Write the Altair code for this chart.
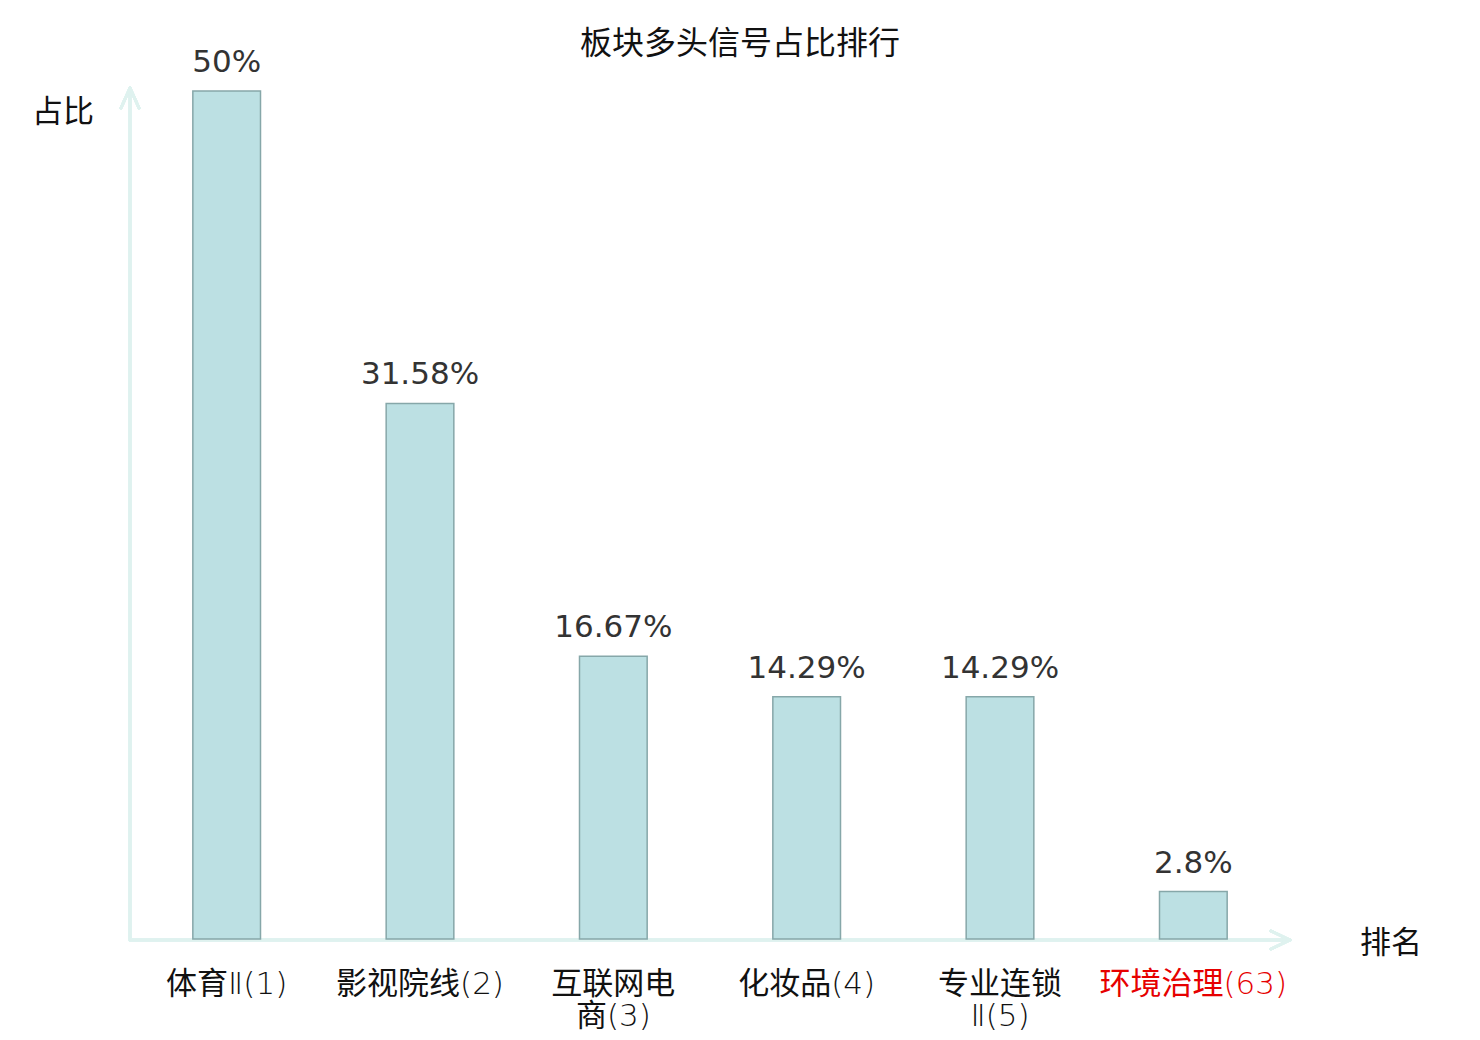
import altair as alt
import pandas as pd

categories = ["体育Ⅱ(1)", "影视院线(2)", "互联网电商(3)", "化妆品(4)", "专业连锁Ⅱ(5)", "环境治理(63)"]
axis_labels = ["体育Ⅱ(1)", "影视院线(2)", "互联网电\n商(3)", "化妆品(4)", "专业连锁\nⅡ(5)", "环境治理(63)"]
values = [50, 31.58, 16.67, 14.29, 14.29, 2.8]
value_labels = ["50%", "31.58%", "16.67%", "14.29%", "14.29%", "2.8%"]
highlight = [False, False, False, False, False, True]

df = pd.DataFrame({
    "cat": categories,
    "axlabel": axis_labels,
    "value": values,
    "vlabel": value_labels,
    "hl": highlight,
})

W, H = 1160, 848
AX = "#dff2ef"
LABEL_FONT = "'DejaVu Sans ExtraLight', 'DejaVu Sans Light', 'Noto Sans CJK SC'"

x = alt.X("cat:N", sort=categories, axis=None,
          scale=alt.Scale(paddingInner=0.65, paddingOuter=0.325))
y = alt.Y("value:Q", axis=None, scale=alt.Scale(domain=[0, 50], nice=False, zero=True))

base = alt.Chart(df)

bars = base.mark_bar(fill="#bce0e3", stroke="#86a7a9", strokeWidth=1.5).encode(x=x, y=y)

vtext = base.mark_text(font="DejaVu Sans", fontSize=31, color="#333333",
                       baseline="alphabetic", dy=-19).encode(x=x, y=y, text="vlabel:N")

xtext = base.mark_text(font=LABEL_FONT, fontSize=31, baseline="top",
                       lineBreak="\n", lineHeight=32).encode(
    x=x, y=alt.value(H + 31), text="axlabel:N",
    color=alt.condition("datum.hl", alt.value("#e60000"), alt.value("#111111")))

# axis lines with arrows
rule_style = dict(color=AX, strokeWidth=3, strokeCap="round")
yaxis = base.mark_rule(**rule_style).encode(x=alt.value(0), y=alt.value(H), y2=alt.value(-3))
ya1 = base.mark_rule(**rule_style).encode(x=alt.value(0), y=alt.value(-3), x2=alt.value(-9), y2=alt.value(17))
ya2 = base.mark_rule(**rule_style).encode(x=alt.value(0), y=alt.value(-3), x2=alt.value(9), y2=alt.value(17))
xaxis = base.mark_rule(**rule_style).encode(x=alt.value(0), x2=alt.value(W), y=alt.value(H + 1))
xa1 = base.mark_rule(**rule_style).encode(x=alt.value(W), y=alt.value(H + 1), x2=alt.value(W - 19), y2=alt.value(H - 8))
xa2 = base.mark_rule(**rule_style).encode(x=alt.value(W), y=alt.value(H + 1), x2=alt.value(W - 19), y2=alt.value(H + 10))

title = alt.Chart(pd.DataFrame({"t": ["板块多头信号占比排行"]})).mark_text(
    font="Noto Sans CJK SC", fontSize=32, color="#111111", baseline="middle").encode(
    x=alt.value(610), y=alt.value(-47), text="t:N")
ylab = alt.Chart(pd.DataFrame({"t": ["占比"]})).mark_text(
    font="Noto Sans CJK SC", fontSize=31, color="#111111", baseline="middle").encode(
    x=alt.value(-67), y=alt.value(22), text="t:N")
xlab = alt.Chart(pd.DataFrame({"t": ["排名"]})).mark_text(
    font="Noto Sans CJK SC", fontSize=31, color="#111111", baseline="middle").encode(
    x=alt.value(1261), y=alt.value(853), text="t:N")

chart = alt.layer(yaxis, ya1, ya2, xaxis, xa1, xa2, bars, vtext, xtext, title, ylab, xlab).properties(
    width=W, height=H,
    autosize=alt.AutoSizeParams(type="none"),
    padding={"left": 122, "top": 83, "right": 180, "bottom": 100},
).configure_view(stroke=None)

chart.save("out.html", embed_options={"renderer": "svg", "actions": False})
